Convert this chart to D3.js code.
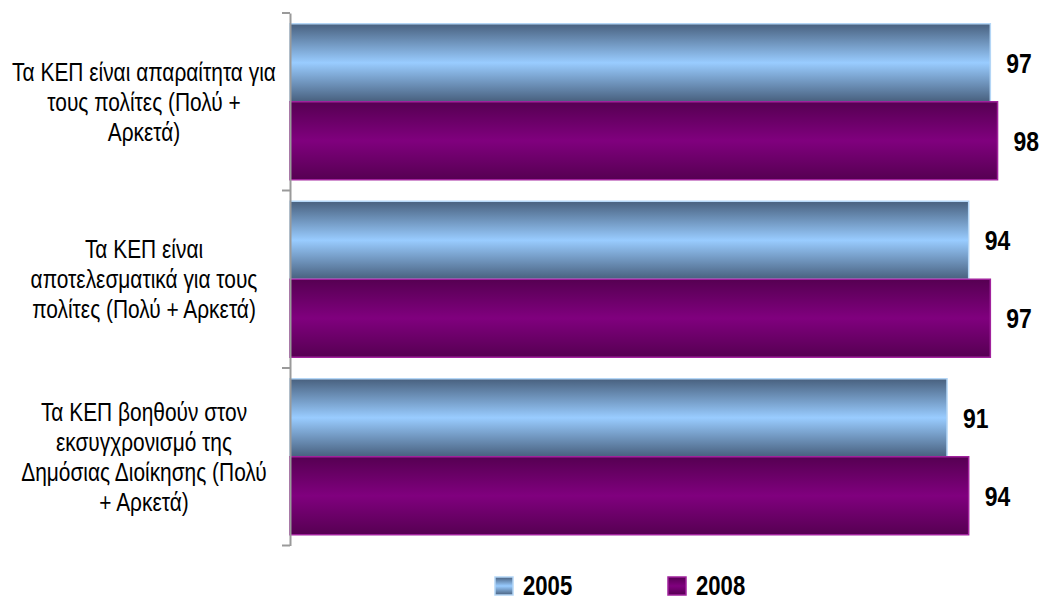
<!DOCTYPE html>
<html>
<head>
<meta charset="utf-8">
<script src="https://cdn.jsdelivr.net/npm/d3@7"></script>
<style>
	body { margin: 0; background: #fff; }
	svg { font-family: "Liberation Sans Narrow", "Arial Narrow", "Liberation Sans", Arial, sans-serif; }
</style>
</head>
<body>
<svg id="SVG" width="1042" height="600"></svg>
<script>
// categories, each already split into the lines shown in the chart
var categories = [
	["Τα ΚΕΠ είναι απαραίτητα για", "τους πολίτες (Πολύ +", "Αρκετά)"],
	["Τα ΚΕΠ είναι", "αποτελεσματικά για τους", "πολίτες (Πολύ + Αρκετά)"],
	["Τα ΚΕΠ βοηθούν στον", "εκσυγχρονισμό της", "Δημόσιας Διοίκησης (Πολύ", "+ Αρκετά)"]
];
var series = ["2005", "2008"];
var values2005 = [97, 94, 91];
var values2008 = [98, 97, 94];

// no narrow font installed, so squeeze the regular one
var narrow = 0.82;

var svg = d3.select("#SVG");
var defs = svg.append("defs");

function barGradient(id, edge, mid) {
	var g = defs.append("linearGradient").attr("id", id)
		.attr("x1", 0).attr("y1", 0).attr("x2", 0).attr("y2", 1);
	g.append("stop").attr("offset", "0%").attr("stop-color", edge);
	g.append("stop").attr("offset", "50%").attr("stop-color", mid);
	g.append("stop").attr("offset", "100%").attr("stop-color", edge);
}
barGradient("g2005", "#48607e", "#99ccff");
barGradient("g2008", "#560052", "#80007e");

var fills = { "2005": "url(#g2005)", "2008": "url(#g2008)" };
var strokes = { "2005": "#b4d6f6", "2008": "#a0229c" };

var keys = categories.map(function(d, i) { return i; });

var y = d3.scaleBand().domain(keys).range([13, 545.5]);
var ySub = d3.scaleBand().domain(series).range([0, y.bandwidth()]).paddingOuter(0.138);
var x = d3.scaleLinear().domain([0, 100]).range([290, 1012]);

var data = [];
keys.forEach(function(k) {
	data.push({ cat: k, s: "2005", v: values2005[k] });
	data.push({ cat: k, s: "2008", v: values2008[k] });
});

// bars
svg.append("g").selectAll("rect")
	.data(data)
	.enter().append("rect")
		.attr("x", x(0))
		.attr("y", function(d) { return y(d.cat) + ySub(d.s); })
		.attr("width", function(d) { return x(d.v) - x(0); })
		.attr("height", ySub.bandwidth())
		.attr("fill", function(d) { return fills[d.s]; })
		.attr("stroke", function(d) { return strokes[d.s]; })
		.attr("stroke-width", 1.5);

// value labels
svg.append("g").selectAll("text")
	.data(data)
	.enter().append("text")
		.attr("transform", function(d) {
			return "translate(" + (x(d.v) + 16) + "," + (y(d.cat) + ySub(d.s) + ySub.bandwidth() / 2) + ")scale(" + narrow + ",1)";
		})
		.attr("dy", "0.36em")
		.attr("font-size", 28)
		.attr("font-weight", "bold")
		.attr("fill", "#000")
		.text(function(d) { return d.v; });

// axis
var axis = svg.append("g")
	.attr("transform", "translate(" + x(0) + ",0)")
	.call(d3.axisLeft(y).tickSize(0).tickFormat(""));
axis.select(".domain").attr("stroke", "#9a9a9a").attr("stroke-width", 2);
axis.selectAll(".tick").remove();
var bounds = y.domain().map(function(k) { return y(k); }).concat([y.range()[1]]);
axis.selectAll("line.sep")
	.data(bounds)
	.enter().append("line")
		.attr("class", "sep")
		.attr("x1", -8).attr("x2", 0)
		.attr("y1", function(d) { return d; })
		.attr("y2", function(d) { return d; })
		.attr("stroke", "#9a9a9a")
		.attr("stroke-width", 2);

// category labels
var lineH = 30;
var cat = svg.append("g").selectAll("text")
	.data(keys)
	.enter().append("text")
		.attr("text-anchor", "middle")
		.attr("font-size", 25.5)
		.attr("fill", "#000")
		.attr("transform", function(k) {
			var n = categories[k].length;
			return "translate(144," + (y(k) + y.bandwidth() / 2 - (n - 1) * lineH / 2) + ")scale(" + narrow + ",1)";
		});
cat.selectAll("tspan")
	.data(function(k) { return categories[k]; })
	.enter().append("tspan")
		.attr("x", 0)
		.attr("y", function(d, i) { return i * lineH; })
		.attr("dy", "0.36em")
		.text(function(d) { return d; });

// legend
var legX = d3.scaleOrdinal().domain(series).range([495, 668]);
var leg = svg.append("g").selectAll("g")
	.data(series)
	.enter().append("g")
		.attr("transform", function(d) { return "translate(" + legX(d) + ",577)"; });
leg.append("rect")
	.attr("width", 18).attr("height", 18)
	.attr("fill", function(d) { return fills[d]; })
	.attr("stroke", function(d) { return strokes[d]; })
	.attr("stroke-width", 1.5);
leg.append("text")
	.attr("transform", "translate(28,9)scale(" + narrow + ",1)")
	.attr("dy", "0.34em")
	.attr("font-size", 27)
	.attr("font-weight", "bold")
	.text(function(d) { return d; });
</script>
</body>
</html>
